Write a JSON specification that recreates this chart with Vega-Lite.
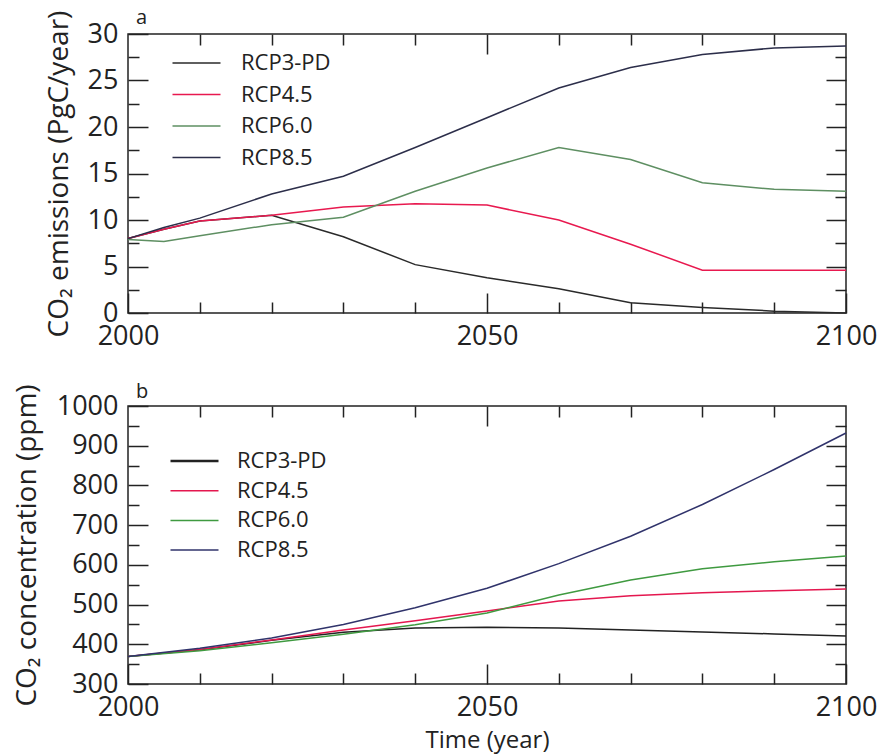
{
  "$schema": "https://vega.github.io/schema/vega-lite/v6.json",
  "padding": {"left": 12, "top": 7, "right": 5, "bottom": 5},
  "datasets": {
    "emis": [
      {"year": 2000, "scenario": "RCP3-PD", "value": 8.0},
      {"year": 2005, "scenario": "RCP3-PD", "value": 9.0},
      {"year": 2010, "scenario": "RCP3-PD", "value": 9.9},
      {"year": 2020, "scenario": "RCP3-PD", "value": 10.5},
      {"year": 2030, "scenario": "RCP3-PD", "value": 8.2},
      {"year": 2040, "scenario": "RCP3-PD", "value": 5.2},
      {"year": 2050, "scenario": "RCP3-PD", "value": 3.8},
      {"year": 2060, "scenario": "RCP3-PD", "value": 2.6},
      {"year": 2070, "scenario": "RCP3-PD", "value": 1.1},
      {"year": 2080, "scenario": "RCP3-PD", "value": 0.6},
      {"year": 2090, "scenario": "RCP3-PD", "value": 0.2},
      {"year": 2100, "scenario": "RCP3-PD", "value": 0.0},
      {"year": 2000, "scenario": "RCP4.5", "value": 8.0},
      {"year": 2005, "scenario": "RCP4.5", "value": 9.0},
      {"year": 2010, "scenario": "RCP4.5", "value": 9.9},
      {"year": 2020, "scenario": "RCP4.5", "value": 10.5},
      {"year": 2030, "scenario": "RCP4.5", "value": 11.4},
      {"year": 2040, "scenario": "RCP4.5", "value": 11.75},
      {"year": 2050, "scenario": "RCP4.5", "value": 11.6},
      {"year": 2060, "scenario": "RCP4.5", "value": 10.0},
      {"year": 2070, "scenario": "RCP4.5", "value": 7.4},
      {"year": 2080, "scenario": "RCP4.5", "value": 4.6},
      {"year": 2090, "scenario": "RCP4.5", "value": 4.6},
      {"year": 2100, "scenario": "RCP4.5", "value": 4.6},
      {"year": 2000, "scenario": "RCP6.0", "value": 7.9},
      {"year": 2005, "scenario": "RCP6.0", "value": 7.7},
      {"year": 2010, "scenario": "RCP6.0", "value": 8.3},
      {"year": 2020, "scenario": "RCP6.0", "value": 9.5},
      {"year": 2030, "scenario": "RCP6.0", "value": 10.3},
      {"year": 2040, "scenario": "RCP6.0", "value": 13.1},
      {"year": 2050, "scenario": "RCP6.0", "value": 15.6},
      {"year": 2060, "scenario": "RCP6.0", "value": 17.8},
      {"year": 2070, "scenario": "RCP6.0", "value": 16.5},
      {"year": 2080, "scenario": "RCP6.0", "value": 14.0},
      {"year": 2090, "scenario": "RCP6.0", "value": 13.3},
      {"year": 2100, "scenario": "RCP6.0", "value": 13.1},
      {"year": 2000, "scenario": "RCP8.5", "value": 8.0},
      {"year": 2005, "scenario": "RCP8.5", "value": 9.2},
      {"year": 2010, "scenario": "RCP8.5", "value": 10.2},
      {"year": 2020, "scenario": "RCP8.5", "value": 12.8},
      {"year": 2030, "scenario": "RCP8.5", "value": 14.7},
      {"year": 2040, "scenario": "RCP8.5", "value": 17.8},
      {"year": 2050, "scenario": "RCP8.5", "value": 21.0},
      {"year": 2060, "scenario": "RCP8.5", "value": 24.2},
      {"year": 2070, "scenario": "RCP8.5", "value": 26.4},
      {"year": 2080, "scenario": "RCP8.5", "value": 27.8},
      {"year": 2090, "scenario": "RCP8.5", "value": 28.5},
      {"year": 2100, "scenario": "RCP8.5", "value": 28.7}
    ],
    "conc": [
      {"year": 2000, "scenario": "RCP3-PD", "value": 369},
      {"year": 2010, "scenario": "RCP3-PD", "value": 386},
      {"year": 2020, "scenario": "RCP3-PD", "value": 410},
      {"year": 2030, "scenario": "RCP3-PD", "value": 430},
      {"year": 2040, "scenario": "RCP3-PD", "value": 441},
      {"year": 2050, "scenario": "RCP3-PD", "value": 443},
      {"year": 2060, "scenario": "RCP3-PD", "value": 441},
      {"year": 2070, "scenario": "RCP3-PD", "value": 436},
      {"year": 2080, "scenario": "RCP3-PD", "value": 431},
      {"year": 2090, "scenario": "RCP3-PD", "value": 426},
      {"year": 2100, "scenario": "RCP3-PD", "value": 421},
      {"year": 2000, "scenario": "RCP4.5", "value": 369},
      {"year": 2010, "scenario": "RCP4.5", "value": 387},
      {"year": 2020, "scenario": "RCP4.5", "value": 411},
      {"year": 2030, "scenario": "RCP4.5", "value": 436},
      {"year": 2040, "scenario": "RCP4.5", "value": 459},
      {"year": 2050, "scenario": "RCP4.5", "value": 484},
      {"year": 2060, "scenario": "RCP4.5", "value": 509},
      {"year": 2070, "scenario": "RCP4.5", "value": 522},
      {"year": 2080, "scenario": "RCP4.5", "value": 530},
      {"year": 2090, "scenario": "RCP4.5", "value": 535},
      {"year": 2100, "scenario": "RCP4.5", "value": 539},
      {"year": 2000, "scenario": "RCP6.0", "value": 369},
      {"year": 2010, "scenario": "RCP6.0", "value": 384},
      {"year": 2020, "scenario": "RCP6.0", "value": 404},
      {"year": 2030, "scenario": "RCP6.0", "value": 425},
      {"year": 2040, "scenario": "RCP6.0", "value": 449},
      {"year": 2050, "scenario": "RCP6.0", "value": 479},
      {"year": 2060, "scenario": "RCP6.0", "value": 524},
      {"year": 2070, "scenario": "RCP6.0", "value": 562},
      {"year": 2080, "scenario": "RCP6.0", "value": 590},
      {"year": 2090, "scenario": "RCP6.0", "value": 608},
      {"year": 2100, "scenario": "RCP6.0", "value": 622},
      {"year": 2000, "scenario": "RCP8.5", "value": 369},
      {"year": 2010, "scenario": "RCP8.5", "value": 390},
      {"year": 2020, "scenario": "RCP8.5", "value": 416},
      {"year": 2030, "scenario": "RCP8.5", "value": 450},
      {"year": 2040, "scenario": "RCP8.5", "value": 492},
      {"year": 2050, "scenario": "RCP8.5", "value": 541},
      {"year": 2060, "scenario": "RCP8.5", "value": 603},
      {"year": 2070, "scenario": "RCP8.5", "value": 672},
      {"year": 2080, "scenario": "RCP8.5", "value": 752},
      {"year": 2090, "scenario": "RCP8.5", "value": 840},
      {"year": 2100, "scenario": "RCP8.5", "value": 932}
    ]
  },
  "config": {
    "font": "Open Sans",
    "view": {"stroke": "#222", "strokeWidth": 1.5},
    "axis": {
      "grid": false, "domain": false,
      "labelFont": "Open Sans", "labelFontSize": 27, "labelColor": "#222",
      "titleFont": "Open Sans", "titleFontSize": 26, "titleFontWeight": "normal", "titleColor": "#222",
      "tickColor": "#222", "tickWidth": 1.5, "labelFlush": false, "labelOverlap": false
    },
    "legend": {
      "orient": "none", "legendX": 55.5, "title": null,
      "symbolType": "M-2,0H2", "symbolSize": 576, "symbolStrokeWidth": 1.5,
      "labelFont": "Open Sans", "labelFontSize": 22, "labelColor": "#222",
      "labelOffset": 31.5, "rowPadding": 7.5, "padding": 0
    },
    "title": {"font": "Open Sans", "fontSize": 20, "fontWeight": "normal", "color": "#222", "frame": "group"}
  },
  "spacing": 93,
  "bounds": "flush",
  "resolve": {"scale": {"color": "independent"}, "legend": {"color": "independent"}},
  "vconcat": [
    {
      "width": 718, "height": 279,
      "title": {"text": "a", "anchor": "start", "frame": "group", "dx": 8, "offset": -18},
      "data": {"name": "emis"},
      "resolve": {"axis": {"x": "independent", "y": "independent"}},
      "layer": [
        {
          "mark": {"type": "line", "strokeWidth": 1.5},
          "encoding": {
            "x": {"field": "year", "type": "quantitative", "scale": {"domain": [2000, 2100], "nice": false},
                  "axis": {"orient": "bottom", "values": [2000, 2050, 2100], "format": "d", "tickSize": -20, "labelPadding": 30, "title": null}},
            "y": {"field": "value", "type": "quantitative", "scale": {"domain": [0, 30], "nice": false},
                  "axis": {"orient": "left", "values": [0, 5, 10, 15, 20, 25, 30], "tickSize": -20, "labelPadding": 30, "title": "CO₂ emissions (PgC/year)", "titleFontSize": 28, "titlePadding": 14}},
            "color": {"field": "scenario", "type": "nominal",
                      "scale": {"domain": ["RCP3-PD", "RCP4.5", "RCP6.0", "RCP8.5"], "range": ["#2a2a2a", "#e8194f", "#5e8f62", "#2c2e4a"]},
                      "legend": {"legendY": 16}}
          }
        },
        {
          "mark": {"type": "line", "opacity": 0},
          "encoding": {
            "detail": {"field": "scenario"},
            "x": {"field": "year", "type": "quantitative", "axis": {"orient": "bottom", "values": [2010, 2020, 2030, 2040, 2060, 2070, 2080, 2090], "tickSize": -11, "labels": false, "title": null}},
            "y": {"field": "value", "type": "quantitative", "axis": {"orient": "left", "values": [2.5, 7.5, 12.5, 17.5, 22.5, 27.5], "tickSize": -11, "labels": false, "title": null}}
          }
        },
        {
          "mark": {"type": "line", "opacity": 0},
          "encoding": {
            "detail": {"field": "scenario"},
            "x": {"field": "year", "type": "quantitative", "axis": {"orient": "top", "values": [2050], "tickSize": -20, "labels": false, "title": null}},
            "y": {"field": "value", "type": "quantitative", "axis": {"orient": "right", "values": [5, 10, 15, 20, 25], "tickSize": -20, "labels": false, "title": null}}
          }
        },
        {
          "mark": {"type": "line", "opacity": 0},
          "encoding": {
            "detail": {"field": "scenario"},
            "x": {"field": "year", "type": "quantitative", "axis": {"orient": "top", "values": [2010, 2020, 2030, 2040, 2060, 2070, 2080, 2090], "tickSize": -11, "labels": false, "title": null}},
            "y": {"field": "value", "type": "quantitative", "axis": {"orient": "right", "values": [2.5, 7.5, 12.5, 17.5, 22.5, 27.5], "tickSize": -11, "labels": false, "title": null}}
          }
        }
      ]
    },
    {
      "width": 718, "height": 278,
      "title": {"text": "b", "anchor": "start", "frame": "group", "dx": 8, "offset": -18},
      "data": {"name": "conc"},
      "resolve": {"axis": {"x": "independent", "y": "independent"}},
      "layer": [
        {
          "mark": {"type": "line", "strokeWidth": 1.5},
          "encoding": {
            "x": {"field": "year", "type": "quantitative", "scale": {"domain": [2000, 2100], "nice": false},
                  "axis": {"orient": "bottom", "values": [2000, 2050, 2100], "format": "d", "tickSize": -20, "labelPadding": 30, "title": "Time (year)", "titleFontSize": 24, "titlePadding": 8}},
            "y": {"field": "value", "type": "quantitative", "scale": {"domain": [300, 1000], "nice": false},
                  "axis": {"orient": "left", "values": [300, 400, 500, 600, 700, 800, 900, 1000], "format": "d", "tickSize": -20, "labelPadding": 30, "title": "CO₂ concentration (ppm)", "titleFontSize": 28, "titlePadding": 15}},
            "color": {"field": "scenario", "type": "nominal",
                      "scale": {"domain": ["RCP3-PD", "RCP4.5", "RCP6.0", "RCP8.5"], "range": ["#222222", "#e4174f", "#3f9a40", "#30336b"]},
                      "legend": {"legendY": 44, "rowPadding": 7.7,
                                 "encode": {"symbols": {"update": {
                                   "stroke": {"signal": "datum.label === 'RCP3-PD' ? '#111111' : datum.label === 'RCP4.5' ? '#777777' : datum.label === 'RCP6.0' ? '#9a9a9a' : '#444444'"},
                                   "strokeWidth": {"signal": "datum.label === 'RCP3-PD' ? 2.5 : 1.5"}}}}}}
          }
        },
        {
          "mark": {"type": "line", "opacity": 0},
          "encoding": {
            "detail": {"field": "scenario"},
            "x": {"field": "year", "type": "quantitative", "axis": {"orient": "bottom", "values": [2010, 2020, 2030, 2040, 2060, 2070, 2080, 2090], "tickSize": -11, "labels": false, "title": null}},
            "y": {"field": "value", "type": "quantitative", "axis": {"orient": "left", "values": [350, 450, 550, 650, 750, 850, 950], "tickSize": -11, "labels": false, "title": null}}
          }
        },
        {
          "mark": {"type": "line", "opacity": 0},
          "encoding": {
            "detail": {"field": "scenario"},
            "x": {"field": "year", "type": "quantitative", "axis": {"orient": "top", "values": [2050], "tickSize": -20, "labels": false, "title": null}},
            "y": {"field": "value", "type": "quantitative", "axis": {"orient": "right", "values": [400, 500, 600, 700, 800, 900], "tickSize": -20, "labels": false, "title": null}}
          }
        },
        {
          "mark": {"type": "line", "opacity": 0},
          "encoding": {
            "detail": {"field": "scenario"},
            "x": {"field": "year", "type": "quantitative", "axis": {"orient": "top", "values": [2010, 2020, 2030, 2040, 2060, 2070, 2080, 2090], "tickSize": -11, "labels": false, "title": null}},
            "y": {"field": "value", "type": "quantitative", "axis": {"orient": "right", "values": [350, 450, 550, 650, 750, 850, 950], "tickSize": -11, "labels": false, "title": null}}
          }
        }
      ]
    }
  ]
}
